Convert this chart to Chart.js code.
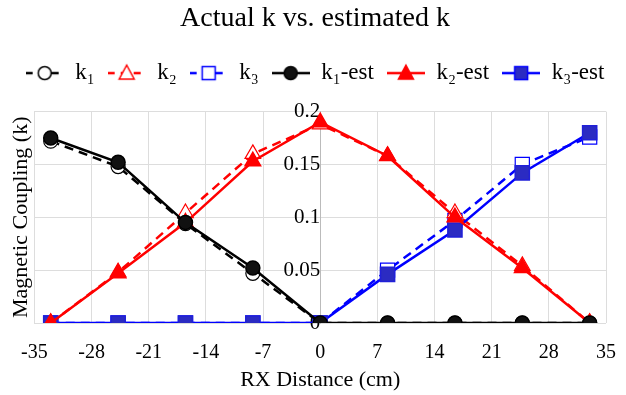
<!DOCTYPE html>
<html>
<head>
<meta charset="utf-8">
<script src="https://cdn.jsdelivr.net/npm/chart.js@4/dist/chart.umd.min.js"></script>
<style>
  html, body { margin: 0; padding: 0; background: #fff; }
  #wrap { width: 626px; height: 395px; }
</style>
</head>
<body>
<div id="wrap"><canvas id="kChart"></canvas></div>
<script>
// RX positions (cm)
const xPos = [-33, -24.75, -16.5, -8.25, 0, 8.25, 16.5, 24.75, 33];

// measured coupling
const k1 = [0.172, 0.148, 0.094, 0.047, 0, 0, 0, 0, 0];
const k2 = [0, 0.048, 0.104, 0.160, 0.188, 0.158, 0.104, 0.054, 0];
const k3 = [0, 0, 0, 0, 0, 0.050, 0.097, 0.150, 0.176];

// estimated coupling
const k1Est = [0.175, 0.152, 0.095, 0.052, 0, 0, 0, 0, 0];
const k2Est = [0, 0.047, 0.095, 0.153, 0.190, 0.158, 0.100, 0.052, 0];
const k3Est = [0, 0, 0, 0, 0, 0.046, 0.088, 0.142, 0.180];

const xTicks = [-35, -28, -21, -14, -7, 0, 7, 14, 21, 28, 35];
const yTicks = [0, 0.05, 0.1, 0.15, 0.2];

const FONT = "'Liberation Serif', 'DejaVu Serif', serif";
const BLUE_FILL = '#2b2bc2';
const ICON_W = 38;

function pts(ys) {
    return xPos.map((x, i) => ({ x: x, y: ys[i] }));
}

// legend icon: short line plus marker
function makeIcon(color, dashed, style, fill) {
    const c = document.createElement('canvas');
    c.width = ICON_W; c.height = 20;
    const g = c.getContext('2d');
    const mid = ICON_W / 2;
    g.strokeStyle = color;
    g.lineWidth = 2.5;
    if (dashed) g.setLineDash([7, 6]);
    g.beginPath();
    g.moveTo(0, 10); g.lineTo(ICON_W, 10);
    g.stroke();
    g.setLineDash([]);
    g.fillStyle = fill || '#fff';
    g.lineWidth = 1.5;
    g.beginPath();
    if (style === 'circle') {
        g.arc(mid, 10, 6.5, 0, Math.PI * 2);
    } else if (style === 'triangle') {
        g.moveTo(mid, 2); g.lineTo(mid + 7.5, 16); g.lineTo(mid - 7.5, 16); g.closePath();
    } else {
        g.rect(mid - 6.5, 3.5, 13, 13);
    }
    g.fill();
    g.stroke();
    return c;
}

function series(label, data, color, dashed, style, fill, radius) {
    return {
        label: label,
        data: pts(data),
        borderColor: color,
        borderWidth: 2.5,
        borderDash: dashed ? [9, 6] : [],
        pointStyle: style,
        pointRadius: radius,
        pointHoverRadius: radius,
        pointBackgroundColor: fill || '#fff',
        pointBorderColor: style === 'rect' && fill ? '#2020d8' : color,
        pointBorderWidth: dashed ? 1.2 : 1.5,
        legendIcon: makeIcon(color, dashed, style, fill),
        tension: 0
    };
}

// dataset index 0 is drawn on top, so estimated series come first in data,
// legend is sorted back into the reference order
const datasets = [
    series('k\u2081-est', k1Est, '#000000', false, 'circle', '#111111', 7),
    series('k\u2082-est', k2Est, '#ff0000', false, 'triangle', '#ff0000', 9),
    series('k\u2083-est', k3Est, '#0000ff', false, 'rect', BLUE_FILL, 10),
    series('k\u2081', k1, '#000000', true, 'circle', null, 7),
    series('k\u2082', k2, '#ff0000', true, 'triangle', null, 9),
    series('k\u2083', k3, '#0000ff', true, 'rect', null, 10)
];
const legendOrder = ['k\u2081', 'k\u2082', 'k\u2083', 'k\u2081-est', 'k\u2082-est', 'k\u2083-est'];

// a bit more room under the legend
const legendGap = {
    id: 'legendGap',
    beforeInit(chart) {
        const fit = chart.legend.fit;
        chart.legend.fit = function() {
            fit.bind(chart.legend)();
            this.height += 17;
        };
    }
};

new Chart(document.getElementById('kChart'), {
    type: 'line',
    data: { datasets: datasets },
    plugins: [legendGap],
    options: {
        responsive: true,
        maintainAspectRatio: false,
        animation: false,
        layout: { padding: { left: 8, right: 4, top: 2, bottom: 2 } },
        plugins: {
            title: {
                display: true,
                text: 'Actual k vs. estimated k',
                color: '#000',
                font: { family: FONT, size: 28, weight: 'normal' },
                padding: { top: 0, bottom: 13 }
            },
            legend: {
                position: 'top',
                labels: {
                    color: '#000',
                    font: { family: FONT, size: 23 },
                    usePointStyle: true,
                    pointStyleWidth: ICON_W,
                    padding: 13,
                    generateLabels: function(chart) {
                        return chart.data.datasets.map((ds, i) => ({
                            text: ds.label,
                            pointStyle: ds.legendIcon,
                            fillStyle: ds.borderColor,
                            strokeStyle: ds.borderColor,
                            lineWidth: 0,
                            hidden: false,
                            datasetIndex: i,
                            fontColor: '#000'
                        }));
                    },
                    sort: (a, b) => legendOrder.indexOf(a.text) - legendOrder.indexOf(b.text)
                }
            },
            tooltip: { enabled: false }
        },
        scales: {
            x: {
                type: 'linear',
                min: -35,
                max: 35,
                afterBuildTicks: (axis) => { axis.ticks = xTicks.map(v => ({ value: v })); },
                afterFit: (axis) => { axis.height = 70; axis.paddingRight = 20; },
                grid: { color: '#dddddd', drawTicks: false },
                border: { display: false },
                ticks: {
                    color: '#000',
                    font: { family: FONT, size: 20 },
                    padding: 18,
                    maxRotation: 0
                },
                title: {
                    display: true,
                    text: 'RX Distance (cm)',
                    color: '#000',
                    font: { family: FONT, size: 22 },
                    padding: { top: 0, bottom: 0 }
                }
            },
            y: {
                position: 'left',
                min: 0,
                max: 0.2,
                afterBuildTicks: (axis) => { axis.ticks = yTicks.map(v => ({ value: v })); },
                grid: { color: '#dddddd', drawTicks: false },
                border: { display: false },
                ticks: { display: false },
                title: {
                    display: true,
                    text: 'Magnetic Coupling (k)',
                    color: '#000',
                    font: { family: FONT, size: 22 },
                    padding: { top: 0, bottom: 0 }
                }
            },
            yc: {
                position: { x: 0 },
                min: 0,
                max: 0.2,
                afterBuildTicks: (axis) => { axis.ticks = yTicks.map(v => ({ value: v })); },
                grid: { display: false, drawTicks: false },
                border: { display: true, color: '#bbbbbb', width: 1 },
                ticks: {
                    color: '#000',
                    font: { family: FONT, size: 21 },
                    padding: 6,
                    callback: v => String(v)
                }
            }
        }
    }
});
</script>
</body>
</html>
